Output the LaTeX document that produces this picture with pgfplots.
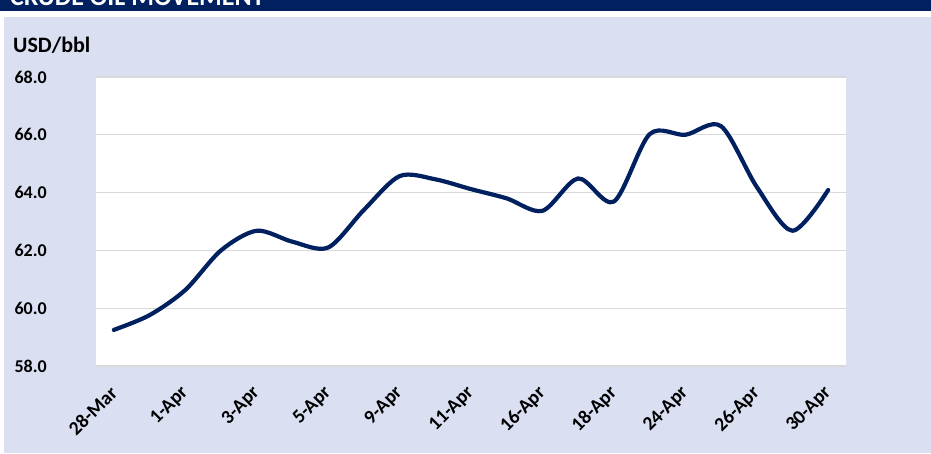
\documentclass[border=0pt]{standalone}
\usepackage{pgfplots}
\pgfplotsset{compat=1.18}
\usepackage{fontspec}
\setmainfont{Carlito}
\definecolor{navy}{HTML}{002060}
\definecolor{lav}{HTML}{DAE0F2}
\definecolor{gridc}{HTML}{D9D9D9}
\pgfplotstableread{
idx price
0 59.25
1 59.76
2 60.63
3 62.00
4 62.68
5 62.30
6 62.10
7 63.40
8 64.57
9 64.46
10 64.12
11 63.80
12 63.37
13 64.49
14 63.69
15 66.02
16 66.00
17 66.30
18 64.20
19 62.68
20 64.09
}\crude
\begin{document}
\begin{tikzpicture}
\useasboundingbox (0pt,0pt) rectangle (931pt,453pt);
\fill[white] (0pt,0pt) rectangle (931pt,453pt);
\fill[navy] (0pt,442pt) rectangle (931pt,453pt);
\begin{scope}
\clip (0pt,442pt) rectangle (931pt,453pt);
\node[anchor=base west, inner sep=0, text=white, font=\bfseries\fontsize{26}{28}\selectfont] at (10pt,447pt) {CRUDE OIL MOVEMENT};
\end{scope}
\fill[lav] (4pt,0pt) rectangle (931pt,436pt);
\node[anchor=base west, inner sep=0, font=\bfseries\fontsize{22}{24}\selectfont] at (13pt,400pt) {USD/bbl};
\begin{axis}[
  at={(96pt,87pt)}, anchor=south west,
  scale only axis, width=750pt, height=289pt,
  xmin=-0.5, xmax=20.5, ymin=58, ymax=68,
  axis background/.style={fill=white},
  axis line style={draw=none},
  major tick length=0pt,
  ytick={58,60,62,64,66,68},
  yticklabels={58.0,60.0,62.0,64.0,66.0,68.0},
  xtick={0,2,...,20},
  xticklabels={28-Mar,1-Apr,3-Apr,5-Apr,9-Apr,11-Apr,16-Apr,18-Apr,24-Apr,26-Apr,30-Apr},
  ymajorgrids, grid style={gridc, line width=1.3pt},
  yticklabel style={font=\bfseries\fontsize{18}{20}\selectfont, anchor=east, inner sep=0pt, xshift=-49pt},
  xticklabel style={font=\bfseries\fontsize{19.5}{21}\selectfont, anchor=east, inner sep=0pt, xshift=0pt, yshift=-24pt, rotate=45},
  clip=false,
]
\addplot[navy, line width=4.2pt, smooth, tension=0.5, line cap=round, line join=round] table[x=idx, y=price] {\crude};
\end{axis}
\end{tikzpicture}
\end{document}
